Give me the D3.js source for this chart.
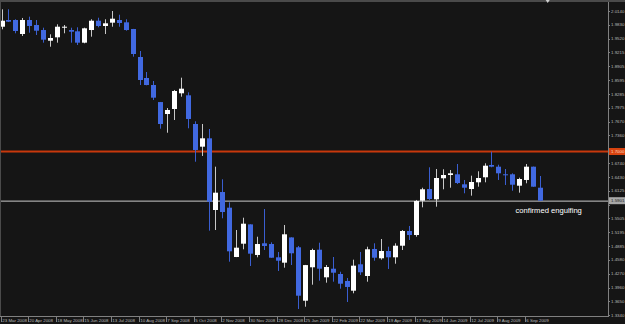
<!DOCTYPE html>
<html><head><meta charset="utf-8">
<script src="https://cdn.jsdelivr.net/npm/d3@7"></script>
<style>html,body{margin:0;padding:0;background:#151515;overflow:hidden}</style>
</head><body><svg id="c" width="625" height="324"></svg>
<script>
// Weekly candles, 23 Mar 2008 .. 13 Sep 2009
const opens = [1.9789,1.9939,1.9939,1.9626,1.9939,1.9827,1.9715,1.9476,1.9552,1.9776,
1.9715,1.9686,1.9432,1.9715,1.9923,1.9805,1.9879,1.9939,1.9887,1.9738,
1.9112,1.8643,1.8486,1.8105,1.7838,1.7950,1.8301,1.8256,1.7615,1.7108,
1.7295,1.5693,1.6095,1.5745,1.4643,1.4940,1.5372,1.4688,1.4949,1.4933,
1.4636,1.4516,1.5080,1.4860,1.3666,1.4413,1.4806,1.4189,1.4381,1.4263,
1.4107,1.3890,1.4480,1.4218,1.4822,1.4614,1.4777,1.4636,1.4895,1.5224,
1.5134,1.5901,1.6162,1.5932,1.6402,1.6475,1.6491,1.6267,1.6162,1.6312,
1.6424,1.6699,1.6661,1.6491,1.6491,1.6236,1.6364,1.6661,1.6191];
const highs = [2.0178,2.0178,1.9955,1.9984,2.0013,1.9939,1.9767,1.9619,1.9843,1.9827,
1.9767,1.9776,1.9767,1.9955,1.9990,1.9955,2.0140,2.0057,1.9955,1.9740,
1.9246,1.8777,1.8576,1.8107,1.7972,1.8375,1.8650,1.8323,1.7675,1.7615,
1.7503,1.6661,1.6379,1.5865,1.5246,1.5521,1.5374,1.5096,1.5715,1.4971,
1.4755,1.5358,1.5083,1.4889,1.4466,1.4828,1.4962,1.4464,1.4643,1.4314,
1.4174,1.4583,1.4755,1.4873,1.4949,1.5045,1.4873,1.4949,1.5246,1.5336,
1.5917,1.6191,1.6647,1.6609,1.6603,1.6587,1.6721,1.6364,1.6460,1.6558,
1.6737,1.6996,1.6705,1.6609,1.6513,1.6415,1.6721,1.6663,1.6453];
const lows = [1.9731,1.9894,1.9642,1.9581,1.9655,1.9604,1.9432,1.9342,1.9432,1.9642,
1.9432,1.9380,1.9418,1.9566,1.9776,1.9626,1.9789,1.9789,1.9700,1.9119,
1.8486,1.8480,1.8151,1.7510,1.7420,1.7704,1.8225,1.7519,1.6772,1.6900,
1.5231,1.5246,1.5508,1.4538,1.4640,1.4815,1.4442,1.4636,1.4799,1.4625,
1.4330,1.4404,1.4464,1.3481,1.3532,1.4024,1.4113,1.4069,1.4091,1.3934,
1.3637,1.3832,1.4241,1.4091,1.4560,1.4583,1.4375,1.4493,1.4799,1.5023,
1.5096,1.5753,1.5917,1.5767,1.6156,1.6191,1.6274,1.6066,1.6013,1.6214,
1.6312,1.6647,1.6364,1.6252,1.6124,1.6080,1.6290,1.6212,1.5899];
const closes = [1.9923,1.9901,1.9693,1.9939,1.9805,1.9700,1.9499,1.9537,1.9789,1.9789,
1.9677,1.9432,1.9753,1.9923,1.9805,1.9865,1.9968,1.9872,1.9715,1.9179,
1.8598,1.8486,1.8203,1.7615,1.7928,1.8352,1.8404,1.7727,1.7034,1.7295,
1.5879,1.6080,1.5648,1.4770,1.4851,1.5387,1.4717,1.4933,1.4889,1.4627,
1.4560,1.5150,1.4726,1.3778,1.4462,1.4799,1.4381,1.4419,1.4292,1.4046,
1.3973,1.4449,1.4301,1.4815,1.4627,1.4777,1.4636,1.4895,1.5224,1.5134,
1.5894,1.6156,1.5939,1.6408,1.6475,1.6513,1.6296,1.6191,1.6319,1.6408,
1.6683,1.6661,1.6513,1.6469,1.6258,1.6386,1.6661,1.6214,1.5901];
const xTickLabels = ["23 Mar 2008","20 Apr 2008","18 May 2008","15 Jun 2008","13 Jul 2008",
"10 Aug 2008","7 Sep 2008","5 Oct 2008","2 Nov 2008","30 Nov 2008","28 Dec 2008",
"25 Jan 2009","22 Feb 2009","22 Mar 2009","19 Apr 2009","17 May 2009","14 Jun 2009",
"12 Jul 2009","9 Aug 2009","6 Sep 2009"];
const yTickLabels = ["2.0140","1.9830","1.9520","1.9215","1.8905","1.8595","1.8285","1.7975",
"1.7670","1.7360","1.7050","1.6740","1.6430","1.6125","1.5815","1.5505","1.5195","1.4885",
"1.4580","1.4270","1.3960","1.3650","1.3340"];
const levelPrice = 1.7000;
const bidPrice = 1.5901;
const noteText = "confirmed engulfing";
const notePrice = 1.5630;
const noteIndex = 74.5;

const W = 625, H = 324;
const plotL = 1, plotR = 608, plotT = 2, plotB = 316;
const svg = d3.select("#c");
const n = opens.length;
const x = d3.scaleLinear().domain([0, n - 1]).range([1.5, 1.5 + 6.9 * (n - 1)]);
const y = d3.scaleLinear().domain([1.3340, 2.0140]).range([315.3, 11]);

svg.append("rect").attr("width", W).attr("height", H).attr("fill", "#151515");

const defs = svg.append("defs");
defs.append("clipPath").attr("id", "plot").append("rect")
  .attr("x", plotL).attr("y", plotT).attr("width", plotR - plotL).attr("height", plotB - plotT);

const g = svg.append("g").attr("clip-path", "url(#plot)");
const data = d3.range(n).map(i => ({i, o: opens[i], h: highs[i], l: lows[i], c: closes[i]}));
const up = d => d.c >= d.o;
const BLUE = "#4169e1";

// level lines
g.append("rect").attr("x", plotL).attr("width", plotR - plotL)
  .attr("y", y(levelPrice) - 1).attr("height", 2).attr("fill", "#c8380c");
g.append("rect").attr("x", plotL).attr("width", plotR - plotL)
  .attr("y", Math.round(y(bidPrice)) - 0.5).attr("height", 1.3).attr("fill", "#a0a0a0");

// wicks
g.selectAll("line.wick").data(data).join("line").attr("class", "wick")
  .attr("x1", d => Math.round(x(d.i)) + 0.5).attr("x2", d => Math.round(x(d.i)) + 0.5)
  .attr("y1", d => y(d.h)).attr("y2", d => y(d.l))
  .attr("stroke", d => up(d) ? "#c8c8c8" : "#3a5ed0").attr("stroke-width", 1);
// bodies
g.selectAll("rect.body").data(data).join("rect").attr("class", "body")
  .attr("x", d => Math.round(x(d.i)) - 2).attr("width", 5)
  .attr("y", d => y(Math.max(d.o, d.c)))
  .attr("height", d => Math.max(1, Math.abs(y(d.o) - y(d.c))))
  .attr("fill", d => up(d) ? "#ffffff" : BLUE);

// note
svg.append("text").attr("x", x(noteIndex)).attr("y", y(notePrice))
  .attr("fill", "#ffffff").attr("font-family", "Liberation Sans, Arial, sans-serif")
  .attr("font-size", 7.6).text(noteText);

// frame
svg.append("rect").attr("x", 0).attr("y", 0).attr("width", W).attr("height", 2).attr("fill", "#4a4a4a");
svg.append("rect").attr("x", 0).attr("y", 0).attr("width", 1).attr("height", plotB).attr("fill", "#4a4a4a");
svg.append("line").attr("x1", 0).attr("x2", plotR).attr("y1", plotB + 0.5).attr("y2", plotB + 0.5)
  .attr("stroke", "#808080");
svg.append("line").attr("x1", plotR + 0.5).attr("x2", plotR + 0.5).attr("y1", 2).attr("y2", plotB + 1)
  .attr("stroke", "#808080");

// chart shift marker
svg.append("path").attr("d", `M${x(78) + 6},0 L${x(78) + 10},0 L${x(78) + 8},3 Z`).attr("fill", "#d0d0d0");

// y axis labels (a label hidden under a price tag is not drawn, as in the reference)
const tagPrices = [levelPrice, bidPrice];
const yAx = svg.append("g");
yTickLabels.forEach(t => {
  const yy = y(+t);
  yAx.append("line").attr("x1", plotR).attr("x2", plotR + 2).attr("y1", Math.round(yy) + 0.5).attr("y2", Math.round(yy) + 0.5)
    .attr("stroke", "#808080");
  if (tagPrices.some(p => Math.abs(y(p) - yy) < 4)) return;
  yAx.append("text").attr("x", 611).attr("y", yy + 1.6).attr("fill", "#b8b8b8")
    .attr("font-family", "Liberation Sans, Arial, sans-serif").attr("font-size", 4.4).text(t);
});
// price labels
function priceTag(p, bg, fg) {
  const yy = y(p);
  svg.append("rect").attr("x", 609).attr("y", yy - 3.5).attr("width", 16).attr("height", 7).attr("fill", bg);
  svg.append("text").attr("x", 611).attr("y", yy + 1.6).attr("fill", fg)
    .attr("font-family", "Liberation Sans, Arial, sans-serif").attr("font-size", 4.4).text(p.toFixed(4));
}
priceTag(levelPrice, "#d84410", "#ffd8c0");
priceTag(bidPrice, "#a8a8a8", "#202020");

// x axis labels
const xAx = svg.append("g");
xTickLabels.forEach((t, k) => {
  const xx = Math.round(x(k * 4)) - 0.5;
  xAx.append("line").attr("x1", xx).attr("x2", xx).attr("y1", plotB + 1).attr("y2", plotB + 6)
    .attr("stroke", "#808080");
  xAx.append("text").attr("x", xx + 0.8).attr("y", 322).attr("fill", "#b8b8b8")
    .attr("font-family", "Liberation Sans, Arial, sans-serif").attr("font-size", 4.4).text(t);
});
</script></body></html>
